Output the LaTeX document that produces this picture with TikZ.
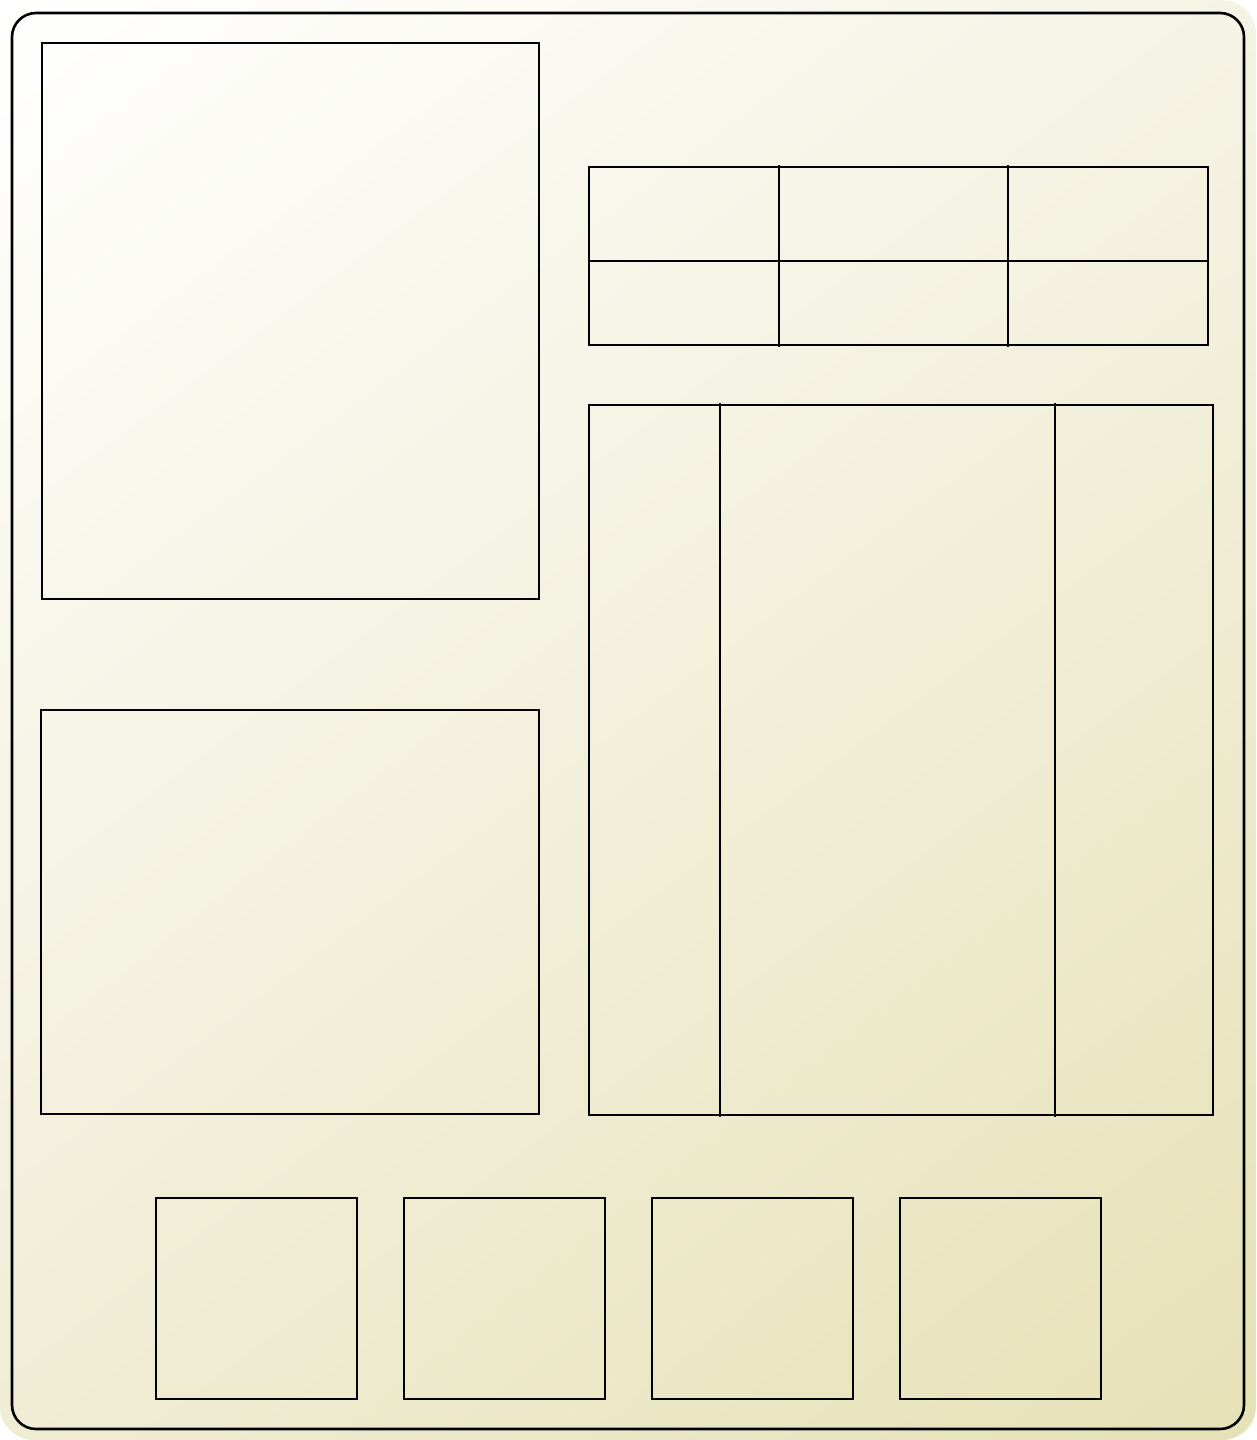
\documentclass[tikz,border=0pt]{standalone}
\usetikzlibrary{shadings}
\definecolor{khakiA}{HTML}{E6E1B6}
\definecolor{khakiM}{HTML}{F1EED8}
\tikzset{
  panel/.style={draw=black, line width=2.6pt},
  divider/.style={draw=black, line width=2.6pt, line cap=rect},
}
\begin{document}
\begin{tikzpicture}[x=1pt,y=-1pt]
\useasboundingbox (0,0) rectangle (1256,1440);
% background
\shade[rounded corners=34pt, upper left=white, lower right=khakiA, upper right=khakiM!70!white, lower left=khakiM!90!khakiA]
  (0,0) rectangle (1256,1440);
% outer frame
\draw[panel, rounded corners=24pt] (12,13) rectangle (1244,1429);
% left panels
\draw[panel] (42,43) rectangle (539,599);
\draw[panel] (41,710) rectangle (539,1114);
% table top right
\draw[panel] (589,167) rectangle (1208,345);
\draw[divider] (589,261) -- (1208,261);
\draw[divider] (779,166) -- (779,346);
\draw[divider] (1008,166) -- (1008,346);
% big right panel
\draw[panel] (589,405) rectangle (1213,1115);
\draw[divider] (720,404) -- (720,1116);
\draw[divider] (1055,404) -- (1055,1116);
% bottom squares
\draw[panel] (156,1198) rectangle (357,1399);
\draw[panel] (404,1198) rectangle (605,1399);
\draw[panel] (652,1198) rectangle (853,1399);
\draw[panel] (900,1198) rectangle (1101,1399);
\end{tikzpicture}
\end{document}
